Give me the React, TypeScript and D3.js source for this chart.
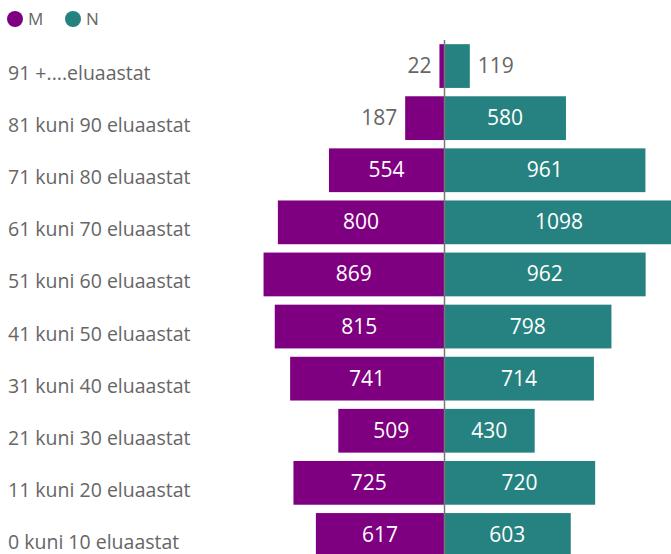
import * as d3 from 'd3';

const ageGroups = [
    '91 +....eluaastat',
    '81 kuni 90 eluaastat',
    '71 kuni 80 eluaastat',
    '61 kuni 70 eluaastat',
    '51 kuni 60 eluaastat',
    '41 kuni 50 eluaastat',
    '31 kuni 40 eluaastat',
    '21 kuni 30 eluaastat',
    '11 kuni 20 eluaastat',
    '0 kuni 10 eluaastat',
];
const maleValues = [22, 187, 554, 800, 869, 815, 741, 509, 725, 617];
const femaleValues = [119, 580, 961, 1098, 962, 798, 714, 430, 720, 603];
const seriesNames = ['M', 'N'];
const colors = ['#7E0080', '#268280'];

const width = 671;
const height = 554;
const center = 444;
const plotTop = 40;
const plotBottom = 561;

const App = () => {
    const y = d3.scaleBand<string>()
        .domain(ageGroups)
        .range([plotTop, plotBottom])
        .paddingInner(0.16)
        .paddingOuter(0.08);
    const xRight = d3.scaleLinear().domain([0, 1098]).range([center + 1, center + 1 + 229]);
    const xLeft = d3.scaleLinear().domain([0, 1098]).range([center, center - 228]);

    const font = '"Segoe UI", "Open Sans", sans-serif';
    const fits = (v: number) => v * 0.208 > 40;

    return (
        <svg width={width} height={height} style={{ position: 'absolute', left: 0, top: 0 }}>
            <rect width={width} height={height} fill="white" />
            {/* legend */}
            <g style={{ font: `17px ${font}`, fill: '#666' }}>
                <circle cx={15} cy={19} r={8} fill={colors[0]} />
                <text x={28} y={25}>{seriesNames[0]}</text>
                <circle cx={73} cy={19} r={8} fill={colors[1]} />
                <text x={86} y={25}>{seriesNames[1]}</text>
            </g>
            {/* category labels */}
            {ageGroups.map((g) => (
                <text key={g} x={8} y={(y(g) || 0) + y.bandwidth() / 2 + 14}
                    style={{ font: `19.5px ${font}`, fill: '#666' }}>
                    {g}
                </text>
            ))}
            {/* bars */}
            {ageGroups.map((g, i) => {
                const by = y(g) || 0;
                const bh = y.bandwidth();
                const m = maleValues[i];
                const f = femaleValues[i];
                const mx = xLeft(m);
                const fx = xRight(f);
                const cy = by + bh / 2 + 7;
                return (
                    <g key={g}>
                        <rect x={mx} y={by} width={center - mx} height={bh} fill={colors[0]} />
                        <rect x={center + 1} y={by} width={fx - center - 1} height={bh} fill={colors[1]} />
                        {fits(m) ? (
                            <text x={(mx + center) / 2} y={cy} textAnchor="middle"
                                style={{ font: `21px ${font}`, fill: 'white' }}>{m}</text>
                        ) : (
                            <text x={mx - 8} y={cy} textAnchor="end"
                                style={{ font: `21px ${font}`, fill: '#666' }}>{m}</text>
                        )}
                        {fits(f) ? (
                            <text x={(fx + center) / 2} y={cy} textAnchor="middle"
                                style={{ font: `21px ${font}`, fill: 'white' }}>{f}</text>
                        ) : (
                            <text x={fx + 8} y={cy} textAnchor="start"
                                style={{ font: `21px ${font}`, fill: '#666' }}>{f}</text>
                        )}
                    </g>
                );
            })}
            <line x1={center + 0.5} x2={center + 0.5} y1={plotTop} y2={height} stroke="#777" strokeWidth={1.5} />
        </svg>
    );
};

export default App;
